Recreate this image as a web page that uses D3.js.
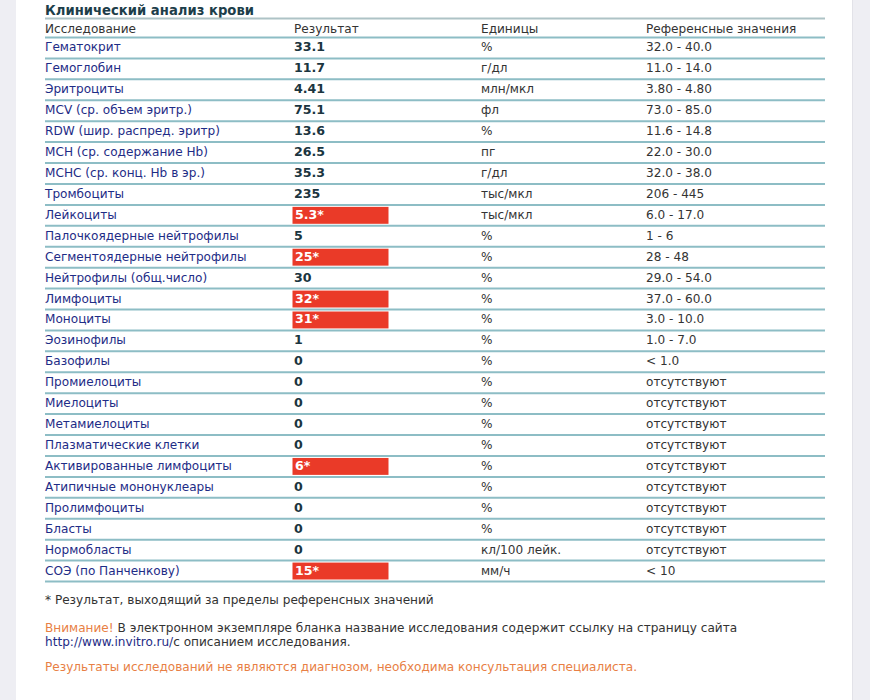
<!DOCTYPE html>
<html>
<head>
<meta charset="utf-8">
<script src="https://cdn.jsdelivr.net/npm/d3@7"></script>
<style>
  body { margin: 0; background: #eeeef3; }
  svg { display: block; }
</style>
</head>
<body>
<div id="sheet"></div>
<script>
var W = 870, H = 700;

// table content
var headers = ["Исследование", "Результат", "Единицы", "Референсные значения"];
var tests = ["Гематокрит", "Гемоглобин", "Эритроциты", "MCV (ср. объем эритр.)",
  "RDW (шир. распред. эритр)", "MCH (ср. содержание Hb)", "MCHC (ср. конц. Hb в эр.)",
  "Тромбоциты", "Лейкоциты", "Палочкоядерные нейтрофилы", "Сегментоядерные нейтрофилы",
  "Нейтрофилы (общ.число)", "Лимфоциты", "Моноциты", "Эозинофилы", "Базофилы",
  "Промиелоциты", "Миелоциты", "Метамиелоциты", "Плазматические клетки",
  "Активированные лимфоциты", "Атипичные мононуклеары", "Пролимфоциты", "Бласты",
  "Нормобласты", "СОЭ (по Панченкову)"];
var results = ["33.1", "11.7", "4.41", "75.1", "13.6", "26.5", "35.3", "235", "5.3*", "5",
  "25*", "30", "32*", "31*", "1", "0", "0", "0", "0", "0", "6*", "0", "0", "0", "0", "15*"];
var units = ["%", "г/дл", "млн/мкл", "фл", "%", "пг", "г/дл", "тыс/мкл", "тыс/мкл", "%",
  "%", "%", "%", "%", "%", "%", "%", "%", "%", "%", "%", "%", "%", "%", "кл/100 лейк.", "мм/ч"];
var refs = ["32.0 - 40.0", "11.0 - 14.0", "3.80 - 4.80", "73.0 - 85.0", "11.6 - 14.8",
  "22.0 - 30.0", "32.0 - 38.0", "206 - 445", "6.0 - 17.0", "1 - 6", "28 - 48",
  "29.0 - 54.0", "37.0 - 60.0", "3.0 - 10.0", "1.0 - 7.0", "< 1.0", "отсутствуют",
  "отсутствуют", "отсутствуют", "отсутствуют", "отсутствуют", "отсутствуют",
  "отсутствуют", "отсутствуют", "отсутствуют", "< 10"];

var font = "'DejaVu Sans', Verdana, sans-serif";
var fs = "12.1px";

var svg = d3.select("#sheet").append("svg")
    .attr("width", W).attr("height", H);

// white sheet between the grey margins
svg.append("rect").attr("x", 16).attr("y", 0).attr("width", 836).attr("height", H)
    .attr("fill", "#fff");
svg.append("line").attr("x1", 852.5).attr("x2", 852.5).attr("y1", 0).attr("y2", H)
    .attr("stroke", "#e2e2e8");

var colX = d3.scaleOrdinal().domain([0, 1, 2, 3]).range([45, 294, 481, 646]);
var left = 45, right = 825;

// row index -> top of row
var y = d3.scaleLinear().domain([0, tests.length]).range([37.5, 581.5]);
var rowH = y(1) - y(0);
var base = rowH / 2 + 3.5;

svg.append("text")
    .attr("x", left).attr("y", 14.5)
    .style("font-family", font).style("font-size", "13.2px").style("font-weight", "bold")
    .attr("fill", "#1d3e4a")
    .text("Клинический анализ крови");

// header
svg.append("line").attr("x1", left).attr("x2", right).attr("y1", 18.5).attr("y2", 18.5)
    .attr("stroke", "#aec3c6").attr("stroke-width", 2);
svg.selectAll("text.hdr").data(headers).enter().append("text")
    .attr("class", "hdr")
    .attr("x", function(d, i) { return colX(i); })
    .attr("y", 32.5)
    .style("font-family", font).style("font-size", fs)
    .attr("fill", "#333")
    .text(function(d) { return d; });

// row separators
svg.selectAll("line.sep").data(d3.range(tests.length + 1)).enter().append("line")
    .attr("class", "sep")
    .attr("x1", left).attr("x2", right)
    .attr("y1", function(d) { return y(d); })
    .attr("y2", function(d) { return y(d); })
    .attr("stroke", "#8dbdc5").attr("stroke-width", 2);

var rows = svg.selectAll("g.row").data(tests).enter().append("g")
    .attr("class", "row")
    .attr("transform", function(d, i) { return "translate(0," + y(i) + ")"; });

// red marker behind out-of-range results
rows.filter(function(d, i) { return results[i].indexOf("*") >= 0; })
    .append("rect")
    .attr("x", 292.5).attr("y", 2).attr("width", 96).attr("height", rowH - 4)
    .attr("fill", "#ea3a28");

rows.append("text")
    .attr("x", colX(0)).attr("y", base)
    .style("font-family", font).style("font-size", fs)
    .attr("fill", "#1e2c86")
    .text(function(d) { return d; });

rows.append("text")
    .attr("x", function(d, i) { return results[i].indexOf("*") >= 0 ? 295 : colX(1); })
    .attr("y", base)
    .style("font-family", font).style("font-size", "12.6px").style("font-weight", "bold")
    .attr("fill", function(d, i) { return results[i].indexOf("*") >= 0 ? "#fff" : "#1b3540"; })
    .text(function(d, i) { return results[i]; });

rows.append("text")
    .attr("x", colX(2)).attr("y", base)
    .style("font-family", font).style("font-size", fs)
    .attr("fill", "#333")
    .text(function(d, i) { return units[i]; });

rows.append("text")
    .attr("x", colX(3)).attr("y", base)
    .style("font-family", font).style("font-size", fs)
    .attr("fill", "#333")
    .text(function(d, i) { return refs[i]; });

// footnotes
var notes = svg.append("g")
    .style("font-family", font).style("font-size", fs);

notes.append("text").attr("x", left).attr("y", 603.5).attr("fill", "#333")
    .text("* Результат, выходящий за пределы референсных значений");

var warn = notes.append("text").attr("x", left).attr("y", 631.5);
warn.append("tspan").attr("fill", "#e87f45").text("Внимание!");
warn.append("tspan").attr("fill", "#333")
    .text(" В электронном экземпляре бланка название исследования содержит ссылку на страницу сайта");

var link = notes.append("text").attr("x", left).attr("y", 645.5);
link.append("tspan").attr("fill", "#1e2c86").text("http://www.invitro.ru/");
link.append("tspan").attr("fill", "#333").text("с описанием исследования.");

notes.append("text").attr("x", left).attr("y", 670.5).attr("fill", "#e87f45")
    .text("Результаты исследований не являются диагнозом, необходима консультация специалиста.");
</script>
</body>
</html>
